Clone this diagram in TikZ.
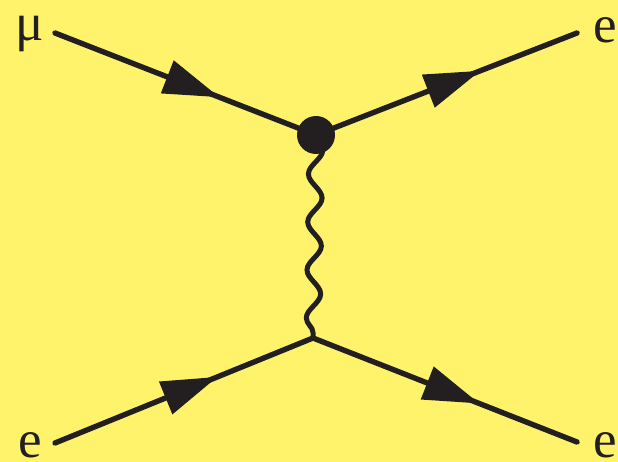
\documentclass[tikz,border=0pt]{standalone}
\usepackage{fontspec}
\setmainfont{Liberation Serif}
\newfontfamily\lblfont{Liberation Serif}
\usetikzlibrary{arrows.meta,decorations.markings,decorations.pathmorphing}
\definecolor{bgyellow}{RGB}{255,243,107}
\definecolor{ink}{RGB}{35,31,32}

\begin{document}
\begin{tikzpicture}[
  x=1pt, y=-1pt,
  fermion/.style={
    draw=ink,
    line width=5.4pt,
    line cap=round,
    postaction={decorate},
    decoration={markings,
      mark=at position 0.63 with {\arrow[ink]{Triangle[length=56pt,width=34pt]}}}
  },
  photon/.style={
    draw=ink,
    line width=5pt,
    line cap=round,
    decorate,
    decoration={snake, segment length=48pt, amplitude=7pt}
  },
  blob/.style={circle, fill=ink, minimum size=38pt, inner sep=0pt},
  lbl/.style={font=\lblfont\fontsize{53}{53}\selectfont, text=ink, inner sep=0pt},
]

% Background.
\fill[bgyellow] (0,0) rectangle (618,462);
\useasboundingbox (0,0) rectangle (618,462);

% End points and vertices.
\coordinate (muin) at (55,33);
\coordinate (etopout) at (577,33);
\coordinate (ebotin) at (55,443);
\coordinate (ebotout) at (577,442);
\coordinate (vtop) at (316,135);
\coordinate (vbot) at (313,338);

% Exchanged photon.
\draw[photon] (vtop) -- (vbot);

% Fermion lines.
\draw[fermion] (muin) -- (vtop);
\draw[fermion] (vtop) -- (etopout);
\draw[fermion] (ebotin) -- (vbot);
\draw[fermion] (vbot) -- (ebotout);

\node[blob] (blob) at (vtop) {};

% Labels.
\node[lbl, anchor=base east] (mu) at (44,41) {μ};
\node[lbl, anchor=base west] (etop) at (593,43) {e};
\node[lbl, anchor=base east] (ebotl) at (42,457) {e};
\node[lbl, anchor=base west] (ebotr) at (593,457) {e};

\end{tikzpicture}
\end{document}
